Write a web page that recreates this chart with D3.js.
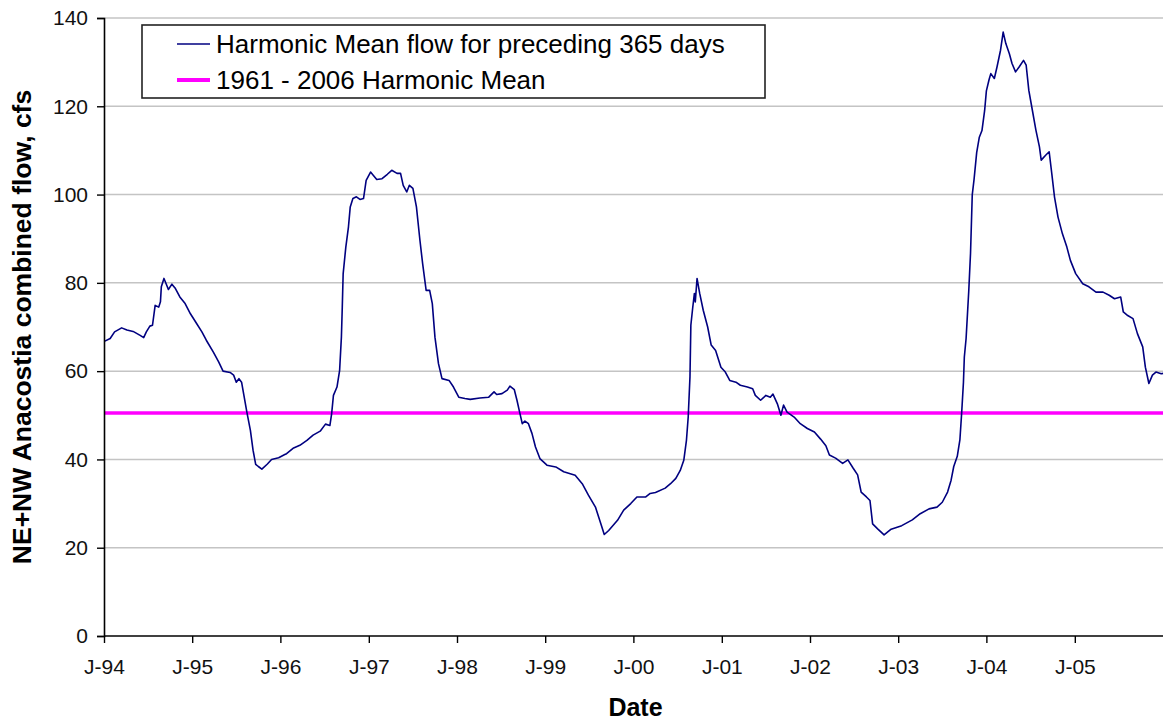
<!DOCTYPE html>
<html>
<head>
<meta charset="utf-8">
<script src="https://cdn.jsdelivr.net/npm/d3@7"></script>
<style>
  html, body { margin: 0; padding: 0; background: #fff; }
  svg { display: block; }
  text { font-family: "Liberation Sans", Arial, sans-serif; }
</style>
</head>
<body>
<svg id="chart" width="1164" height="721"></svg>
<script>
// ---- DATA ----
const seriesNames = ["Harmonic Mean flow for preceding 365 days", "1961 - 2006 Harmonic Mean"];
const longTermHarmonicMean = 50.5;
const tickYears = [1994, 1995, 1996, 1997, 1998, 1999, 2000, 2001, 2002, 2003, 2004, 2005];
const tickLabels = ["J-94", "J-95", "J-96", "J-97", "J-98", "J-99", "J-00", "J-01", "J-02", "J-03", "J-04", "J-05"];
const yTicks = [0, 20, 40, 60, 80, 100, 120, 140];
const years = [
  1994.01, 1994.07, 1994.12, 1994.20, 1994.26, 1994.33, 1994.41, 1994.45, 1994.48, 1994.52,
  1994.55, 1994.58, 1994.62, 1994.64, 1994.65, 1994.68, 1994.71, 1994.73, 1994.77, 1994.81,
  1994.86, 1994.92, 1994.98, 1995.05, 1995.11, 1995.16, 1995.24, 1995.30, 1995.35, 1995.43,
  1995.47, 1995.50, 1995.53, 1995.56, 1995.59, 1995.62, 1995.66, 1995.69, 1995.72, 1995.75,
  1995.79, 1995.85, 1995.90, 1995.98, 1996.05, 1996.07, 1996.15, 1996.22, 1996.30, 1996.37,
  1996.45, 1996.51, 1996.56, 1996.58, 1996.60, 1996.64, 1996.67, 1996.69, 1996.70, 1996.71,
  1996.74, 1996.77, 1996.79, 1996.82, 1996.86, 1996.90, 1996.94, 1996.97, 1997.02, 1997.05,
  1997.09, 1997.15, 1997.21, 1997.26, 1997.32, 1997.36, 1997.39, 1997.43, 1997.46, 1997.50,
  1997.54, 1997.58, 1997.61, 1997.65, 1997.69, 1997.72, 1997.75, 1997.79, 1997.83, 1997.91,
  1997.96, 1998.02, 1998.09, 1998.15, 1998.26, 1998.36, 1998.42, 1998.45, 1998.51, 1998.57,
  1998.60, 1998.65, 1998.68, 1998.71, 1998.74, 1998.77, 1998.81, 1998.85, 1998.89, 1998.94,
  1999.02, 1999.12, 1999.21, 1999.34, 1999.42, 1999.49, 1999.57, 1999.63, 1999.67, 1999.72,
  1999.82, 1999.89, 1999.97, 2000.04, 2000.14, 2000.19, 2000.25, 2000.36, 2000.42, 2000.48,
  2000.53, 2000.57, 2000.60, 2000.62, 2000.64, 2000.65, 2000.67, 2000.69, 2000.70, 2000.72,
  2000.75, 2000.79, 2000.84, 2000.88, 2000.93, 2000.99, 2001.04, 2001.09, 2001.16, 2001.21,
  2001.29, 2001.35, 2001.38, 2001.44, 2001.50, 2001.55, 2001.58, 2001.63, 2001.67, 2001.70,
  2001.74, 2001.82, 2001.89, 2001.97, 2002.05, 2002.12, 2002.18, 2002.22, 2002.29, 2002.37,
  2002.43, 2002.49, 2002.54, 2002.58, 2002.64, 2002.68, 2002.71, 2002.77, 2002.84, 2002.92,
  2003.04, 2003.16, 2003.25, 2003.35, 2003.44, 2003.50, 2003.56, 2003.60, 2003.63, 2003.67,
  2003.70, 2003.72, 2003.74, 2003.75, 2003.77, 2003.80, 2003.82, 2003.84, 2003.86, 2003.89,
  2003.92, 2003.95, 2003.98, 2004.00, 2004.03, 2004.05, 2004.09, 2004.12, 2004.16, 2004.19,
  2004.22, 2004.26, 2004.29, 2004.33, 2004.37, 2004.42, 2004.45, 2004.48, 2004.52, 2004.56,
  2004.60, 2004.62, 2004.67, 2004.71, 2004.74, 2004.77, 2004.81, 2004.86, 2004.91, 2004.95,
  2005.01, 2005.09, 2005.16, 2005.24, 2005.32, 2005.39, 2005.45, 2005.52, 2005.55, 2005.60,
  2005.66, 2005.71, 2005.77, 2005.80, 2005.84, 2005.88, 2005.92, 2005.98, 2006.00
];
const flows = [
  66.8, 67.4, 68.9, 69.8, 69.3, 69.0, 68.1, 67.6, 68.9, 70.2,
  70.4, 74.9, 74.5, 75.7, 79.1, 81.0, 79.5, 78.5, 79.7, 78.7,
  76.8, 75.3, 73.0, 70.8, 68.9, 67.0, 64.3, 62.1, 60.0, 59.7,
  59.1, 57.5, 58.3, 57.5, 54.1, 50.7, 46.6, 42.1, 38.9, 38.4,
  37.8, 38.9, 40.0, 40.4, 41.1, 41.3, 42.6, 43.2, 44.3, 45.5,
  46.4, 48.0, 47.7, 50.4, 54.5, 56.4, 60.2, 67.7, 74.5, 82.1,
  88.1, 92.7, 97.2, 99.1, 99.5, 98.9, 99.1, 103.2, 105.1, 104.4,
  103.4, 103.6, 104.6, 105.5, 104.8, 104.8, 102.1, 100.6, 102.1, 101.4,
  97.2, 89.6, 84.4, 78.3, 78.3, 75.3, 67.7, 61.7, 58.3, 57.9,
  56.4, 54.1, 53.8, 53.6, 53.9, 54.1, 55.3, 54.7, 54.9, 55.7,
  56.6, 55.8, 53.4, 50.7, 48.1, 48.7, 48.1, 45.9, 42.8, 40.2,
  38.7, 38.3, 37.2, 36.4, 34.5, 31.9, 29.2, 25.5, 23.0, 23.9,
  26.2, 28.5, 30.0, 31.5, 31.5, 32.3, 32.5, 33.5, 34.5, 35.7,
  37.5, 39.8, 44.3, 49.6, 58.7, 70.4, 74.2, 77.6, 75.7, 81.0,
  77.6, 73.8, 70.0, 65.9, 64.7, 60.9, 59.8, 57.9, 57.5, 56.8,
  56.4, 56.0, 54.5, 53.4, 54.5, 54.1, 54.8, 52.6, 50.0, 52.3,
  50.7, 49.6, 48.1, 47.0, 46.2, 44.6, 43.1, 41.0, 40.3, 39.1,
  39.9, 38.0, 36.5, 32.6, 31.5, 30.7, 25.4, 24.2, 22.9, 24.2,
  25.0, 26.3, 27.7, 28.8, 29.2, 30.3, 32.6, 35.3, 38.4, 40.7,
  44.5, 50.6, 57.5, 63.2, 67.4, 78.1, 86.6, 100.0, 103.4, 109.5,
  113.0, 114.5, 119.0, 123.5, 126.0, 127.4, 126.3, 128.9, 132.7, 136.8,
  134.2, 131.9, 129.7, 127.8, 128.9, 130.4, 129.3, 123.6, 119.1, 114.6,
  110.8, 107.8, 108.9, 109.7, 104.7, 99.5, 94.9, 91.1, 88.1, 85.1,
  82.1, 79.8, 79.1, 77.9, 77.9, 77.2, 76.4, 76.8, 73.4, 72.6,
  71.9, 68.5, 65.5, 60.9, 57.2, 59.1, 59.8, 59.4, 59.5
];

// ---- HELPERS ----
function decYearToDate(t) {
  const y = Math.floor(t);
  const s = Date.UTC(y, 0, 1), e = Date.UTC(y + 1, 0, 1);
  return new Date(s + (t - y) * (e - s));
}
const data = years.map((t, i) => ({ date: decYearToDate(t), value: flows[i] }));

// ---- LAYOUT ----
const svg = d3.select("#chart");
const plotLeft = 104, plotRight = 1163, plotTop = 18, plotBottom = 636;

const x = d3.scaleUtc()
  .domain([new Date(Date.UTC(1994, 0, 1)), new Date(Date.UTC(2006, 0, 1))])
  .range([plotLeft, plotRight]);
const y = d3.scaleLinear().domain([0, 140]).range([plotBottom, plotTop]);

// gridlines
svg.append("g")
  .selectAll("line")
  .data(yTicks.filter(v => v > 0))
  .join("line")
  .attr("x1", plotLeft).attr("x2", plotRight)
  .attr("y1", d => y(d)).attr("y2", d => y(d))
  .attr("stroke", "#c4c4c4").attr("stroke-width", 1.5);

// clip
svg.append("clipPath").attr("id", "clip")
  .append("rect").attr("x", plotLeft).attr("y", plotTop - 5)
  .attr("width", plotRight - plotLeft + 2).attr("height", plotBottom - plotTop + 5);

// harmonic mean reference line
svg.append("line")
  .attr("x1", plotLeft).attr("x2", plotRight)
  .attr("y1", y(longTermHarmonicMean)).attr("y2", y(longTermHarmonicMean))
  .attr("stroke", "#ff00ff").attr("stroke-width", 3.5);

// series line
svg.append("path")
  .datum(data)
  .attr("clip-path", "url(#clip)")
  .attr("fill", "none")
  .attr("stroke", "#000080")
  .attr("stroke-width", 1.6)
  .attr("stroke-linejoin", "round")
  .attr("d", d3.line().x(d => x(d.date)).y(d => y(d.value)));

// y axis
const yAxis = d3.axisLeft(y).tickValues(yTicks).tickSize(7).tickPadding(9).tickFormat(d3.format("d"));
const gy = svg.append("g").attr("transform", `translate(${plotLeft},0)`).call(yAxis);
gy.select(".domain").attr("stroke", "#000").attr("stroke-width", 1.6);
gy.selectAll(".tick line").attr("stroke", "#000").attr("stroke-width", 1.4);
gy.selectAll(".tick text").attr("font-size", 21).attr("fill", "#111")
  .attr("font-family", "'Liberation Sans', Arial, sans-serif");

// x axis
const tickDates = tickYears.map(yr => new Date(Date.UTC(yr, 0, 1)));
const xAxis = d3.axisBottom(x).tickValues(tickDates).tickSize(7).tickPadding(16)
  .tickFormat((d, i) => tickLabels[i]);
const gx = svg.append("g").attr("transform", `translate(0,${plotBottom})`).call(xAxis);
gx.select(".domain").attr("stroke", "#000").attr("stroke-width", 1.6)
  .attr("d", `M${plotLeft},0H${plotRight}`);
gx.selectAll(".tick line").attr("stroke", "#000").attr("stroke-width", 1.4);
gx.selectAll(".tick text").attr("font-size", 21).attr("fill", "#111")
  .attr("font-family", "'Liberation Sans', Arial, sans-serif");

// axis titles
svg.append("text")
  .attr("x", (plotLeft + plotRight) / 2 + 2).attr("y", 716)
  .attr("text-anchor", "middle")
  .attr("font-size", 25).attr("font-weight", "bold").attr("fill", "#000")
  .text("Date");

svg.append("text")
  .attr("transform", `translate(31,${(plotTop + plotBottom) / 2}) rotate(-90)`)
  .attr("text-anchor", "middle")
  .attr("font-size", 26.5).attr("font-weight", "bold").attr("fill", "#000")
  .text("NE+NW Anacostia combined flow, cfs");

// legend
const lg = svg.append("g");
lg.append("rect")
  .attr("x", 142).attr("y", 25).attr("width", 623).attr("height", 73)
  .attr("fill", "#fff").attr("stroke", "#222").attr("stroke-width", 1.6);
const legendItems = [
  { name: seriesNames[0], color: "#000080", width: 1.5, cy: 44 },
  { name: seriesNames[1], color: "#ff00ff", width: 4, cy: 80 }
];
legendItems.forEach(it => {
  lg.append("line").attr("x1", 177).attr("x2", 210)
    .attr("y1", it.cy).attr("y2", it.cy)
    .attr("stroke", it.color).attr("stroke-width", it.width);
  lg.append("text").attr("x", 216).attr("y", it.cy + 9)
    .attr("font-size", 26).attr("fill", "#000").text(it.name);
});
</script>
</body>
</html>
